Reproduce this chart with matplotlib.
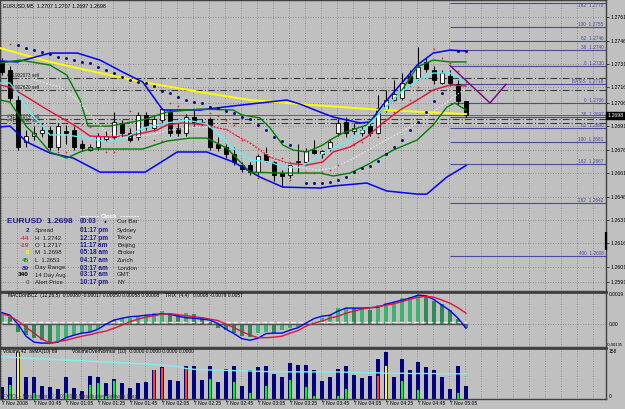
import numpy as np
import matplotlib
matplotlib.use("Agg")
import matplotlib.pyplot as plt

plt.rcParams['font.family'] = ['Liberation Sans', 'DejaVu Sans']

# ---------------- data ----------------
bars = np.arange(59)
opens = [1.2732, 1.2727, 1.2708, 1.2681, 1.2685, 1.2687, 1.2689, 1.2678, 1.2688, 1.2689,
         1.2680, 1.2676, 1.2678, 1.2683, 1.2684, 1.2693, 1.2687, 1.2684, 1.2698, 1.2690,
         1.2695, 1.2700, 1.2690, 1.2687, 1.2697, 1.2693, 1.2696, 1.2680, 1.2678, 1.2673,
         1.2666, 1.2666, 1.2662, 1.2673, 1.2668, 1.2661, 1.2660, 1.2668, 1.2668, 1.2676,
         1.2673, 1.2677, 1.2687, 1.2694, 1.2688, 1.2687, 1.2691, 1.2687, 1.2702, 1.2708,
         1.2709, 1.2723, 1.2722, 1.2732, 1.2727, 1.2719, 1.2723, 1.2718, 1.2707]
highs = [1.2735, 1.2730, 1.2711, 1.2689, 1.2691, 1.2693, 1.2691, 1.2693, 1.2692, 1.2691,
         1.2682, 1.2680, 1.2687, 1.2688, 1.2700, 1.2695, 1.2690, 1.2700, 1.2700, 1.2698,
         1.2703, 1.2702, 1.2693, 1.2699, 1.2702, 1.2696, 1.2697, 1.2684, 1.2680, 1.2678,
         1.2668, 1.2668, 1.2673, 1.2678, 1.2669, 1.2663, 1.2668, 1.2680, 1.2677, 1.2682,
         1.2676, 1.2683, 1.2696, 1.2697, 1.2693, 1.2691, 1.2693, 1.2711, 1.2714, 1.2721,
         1.2725, 1.2727, 1.2742, 1.2735, 1.2730, 1.2727, 1.2727, 1.2721, 1.2707]
lows = [1.2724, 1.2707, 1.2676, 1.2678, 1.2682, 1.2684, 1.2676, 1.2676, 1.2680, 1.2676,
        1.2675, 1.2675, 1.2676, 1.2681, 1.2682, 1.2684, 1.2681, 1.2682, 1.2689, 1.2688,
        1.2693, 1.2685, 1.2685, 1.2685, 1.2691, 1.2691, 1.2676, 1.2675, 1.2671, 1.2666,
        1.2662, 1.2660, 1.2660, 1.2668, 1.2656, 1.2653, 1.2658, 1.2661, 1.2666, 1.2673,
        1.2671, 1.2675, 1.2685, 1.2684, 1.2686, 1.2685, 1.2685, 1.2686, 1.2700, 1.2707,
        1.2708, 1.2717, 1.2721, 1.2726, 1.2718, 1.2718, 1.2717, 1.2705, 1.2697]
closes = [1.2726, 1.2709, 1.2678, 1.2685, 1.2687, 1.2689, 1.2678, 1.2691, 1.2687, 1.2678,
          1.2677, 1.2678, 1.2685, 1.2685, 1.2694, 1.2687, 1.2682, 1.2698, 1.2691, 1.2696,
          1.2702, 1.2687, 1.2687, 1.2697, 1.2694, 1.2694, 1.2678, 1.2677, 1.2673, 1.2668,
          1.2664, 1.2662, 1.2672, 1.2669, 1.2660, 1.2659, 1.2666, 1.2669, 1.2675, 1.2674,
          1.2675, 1.2681, 1.2693, 1.2687, 1.2690, 1.2689, 1.2687, 1.2703, 1.2708, 1.2712,
          1.2719, 1.2719, 1.2729, 1.2728, 1.2721, 1.2725, 1.2719, 1.2707, 1.2698]

nan = np.nan
sar_main = [nan, nan, 1.27432, 1.27412, 1.27399, 1.27387, 1.27374, 1.27355, 1.27348, 1.27335,
            1.27323, 1.27316, 1.27291, 1.27271, 1.27252, 1.27226, 1.27207, 1.27194, 1.27188, 1.27169,
            1.27137, 1.27124, 1.27098, 1.27079, 1.27066, 1.27060, 1.27034, 1.27028, 1.27008, 1.26996,
            1.26970, 1.26957, 1.26919, 1.26887, 1.26842, 1.26816, 1.26791, nan, 1.26547, 1.26547,
            1.26547, 1.26553, 1.26566, 1.26585, 1.26617, 1.26643, 1.26659, 1.26688, 1.26733, 1.26778,
            1.26823, 1.26887, 1.26938, 1.27002, 1.27073, 1.27124, nan, 1.27393, 1.27393]
sar_fast = [nan, 1.27438, nan, nan, nan, nan, nan, 1.26746, 1.26746, nan,
            1.26925, 1.26906, nan, 1.26746, 1.26746, nan, 1.27008, nan, nan, 1.26823,
            1.26816, 1.27060, 1.27041, nan, nan, nan, 1.26996, 1.26976, 1.26951, 1.26919,
            1.26823, nan, 1.26579, 1.26566, nan, 1.26707, 1.26566, nan, 1.26617, 1.26611,
            1.26617, 1.26630, 1.26662, nan, 1.26791, 1.26810, nan, 1.26842, 1.26951, 1.27002,
            nan, 1.27079, 1.27162, nan, 1.27406, 1.27348, 1.27316, 1.27265, 1.27194]

yellow_x = [-0.25, 6, 12.25, 17.6, 24.75, 31, 37.25, 47.6, 58]
yellow_p = [1.27412, 1.27323, 1.27252, 1.27194, 1.27130, 1.27079, 1.27053, 1.27015, 1.26989]
bb_up_x = [-0.25, 1.9, 6, 9.4, 12.25, 15.1, 17.6, 20.1, 24.75, 28.9, 35.6, 37.25, 39.75, 41.4,
           44.75, 46, 47.6, 49.75, 51.9, 53.9, 56, 58]
bb_up_p = [1.27329, 1.27323, 1.27380, 1.27380, 1.27335, 1.27258, 1.27194, 1.27015, 1.27015, 1.27041,
           1.27079, 1.27053, 1.27002, 1.26970, 1.26932, 1.26938, 1.27047, 1.27175, 1.27303, 1.27380,
           1.27399, 1.27393]
bb_lo_x = [-0.25, 1, 3.1, 6, 8.9, 12.25, 17.9, 21.9, 25.6, 28.9, 32.25, 35.1, 39.75, 41.4, 45.6,
           48.1, 51.9, 53.1, 55.6, 58]
bb_lo_p = [1.26906, 1.26912, 1.26810, 1.26739, 1.26707, 1.26617, 1.26617, 1.26746, 1.26746, 1.26682,
           1.26585, 1.26521, 1.26515, 1.26528, 1.26547, 1.26496, 1.26476, 1.26476, 1.26585, 1.26659]
env_up_x = [-0.25, 2.25, 6, 8.1, 9.75, 10.75, 13.5, 17.6, 20.6, 24.75, 28.9, 30, 32.25, 33.5, 35.1,
            36.4, 38.1, 40.1, 41, 42.6, 45.6, 47.6, 49.75, 51.9, 53.9, 56, 58]
env_up_p = [1.27316, 1.27335, 1.27303, 1.27239, 1.27079, 1.26912, 1.26912, 1.26951, 1.27002, 1.27021,
            1.27015, 1.26983, 1.26964, 1.26900, 1.26791, 1.26758, 1.26746, 1.26791, 1.26823, 1.26867,
            1.26919, 1.27015, 1.27124, 1.27291, 1.27335, 1.27323, 1.27323]
env_lo_x = [-0.25, 1, 1.9, 3.1, 4.4, 6, 8.1, 9.75, 11, 17.6, 20.6, 23.5, 25.6, 28.1, 31, 35.1, 39.75,
            41.4, 43.5, 45.6, 48.9, 51.9, 53.9, 55.6, 56.6, 58]
env_lo_p = [1.27079, 1.27066, 1.26996, 1.26906, 1.26842, 1.26746, 1.26707, 1.26746, 1.26765, 1.26765,
            1.26816, 1.26835, 1.26835, 1.26771, 1.26617, 1.26611, 1.26611, 1.26592, 1.26611, 1.26662,
            1.26758, 1.26823, 1.26919, 1.27034, 1.27060, 1.27015]
red_x = [-0.25, 1, 3.1, 5.1, 7.25, 9.4, 11, 13.5, 16.4, 19.4, 20.6, 22.6, 25.6, 28.1, 31, 33.5, 35.6,
         38.1, 40.1, 41.4, 43.5, 45.6, 47.6, 49.75, 51.9, 53.9, 56, 58]
red_p = [1.27175, 1.27162, 1.27098, 1.27034, 1.26970, 1.26906, 1.26848, 1.26842, 1.26855, 1.26887,
         1.26919, 1.26932, 1.26919, 1.26887, 1.26803, 1.26714, 1.26675, 1.26662, 1.26682, 1.26746,
         1.26778, 1.26842, 1.26932, 1.27015, 1.27079, 1.27143, 1.27175, 1.27169]
cyan_x = [-0.25, 1, 2.25, 3.5, 4.75, 6, 8.1, 9.75, 11.9, 13.1, 15.6, 17.6, 19.4, 20.6, 23.1, 25.6,
          26.9, 28.9, 31, 33.5, 35.1, 36.9, 38.5, 39.75, 41.4, 43.5, 45.6, 47.6, 49.75, 51.9, 53.9,
          56, 57.25, 58]
cyan_p = [1.27188, 1.27188, 1.27098, 1.26996, 1.26932, 1.26855, 1.26855, 1.26842, 1.26823, 1.26810,
          1.26842, 1.26900, 1.26919, 1.26932, 1.26951, 1.26925, 1.26867, 1.26771, 1.26694, 1.26682,
          1.26650, 1.26643, 1.26682, 1.26726, 1.26771, 1.26823, 1.26906, 1.27015, 1.27124, 1.27207,
          1.27252, 1.27252, 1.27220, 1.27188]
dot_x = [3.1, 7.25, 9.4, 11.4, 13.1, 15.4, 18.5, 21, 24.75, 26.9, 29.4, 32.25, 34.4, 36.9, 39.4,
         41.4, 43.5, 47.6, 51.9, 56, 58]
dot_p = [1.27220, 1.27162, 1.27079, 1.26964, 1.26874, 1.26835, 1.26855, 1.26887, 1.26906, 1.26906,
         1.26855, 1.26758, 1.26694, 1.26650, 1.26630, 1.26643, 1.26694, 1.26810, 1.26932, 1.27079,
         1.27156]

order_prices = [1.2722, 1.2714, 1.2696, 1.2693]
order_labels = ['#41902073 sell', '#41902620 sell', '#41902674 sell', '#41902698 sell']
bid_price = 1.2698

fib_start = 56
fib_levels = [1.2770, 1.2755, 1.2746, 1.2740, 1.2730, 1.2718, 1.2706, 1.2697, 1.2690, 1.2681,
              1.2667, 1.2642, 1.2608]
fib_names = ['162', '100', '62', '38', '0', 'BASIS', '0', '38', '62', '100', '162', '262', '400']
zig_x = [56, 61, 63]
zig_p = [1.2730, 1.2706, 1.2718]

price_ticks = [1.2761, 1.2746, 1.2731, 1.2716, 1.2706, 1.2691, 1.2676, 1.2661, 1.2646, 1.2631,
               1.2616, 1.2601, 1.2591]
axis_marker = [1.2612, 1.2623]

macd_hist = [0.00053, 0.00041, -0.00047, -0.00065, -0.00083, -0.00095, -0.00112, -0.00100, -0.00077, -0.00065,
             -0.00053, -0.00047, -0.00030, 0.00006, 0.00024, 0.00035, 0.00035, 0.00041, 0.00053, 0.00065,
             0.00077, 0.00065, 0.00053, 0.00065, 0.00059, 0.00041, 0.00012, -0.00024, -0.00035, -0.00053,
             -0.00071, -0.00077, -0.00053, -0.00047, -0.00053, -0.00035, -0.00024, -0.00018, 0.00006, 0.00012,
             0.00035, 0.00053, 0.00095, 0.00095, 0.00094, 0.00095, 0.00083, 0.00112, 0.00124, 0.00124,
             0.00154, 0.00160, 0.00171, 0.00165, 0.00136, 0.00118, 0.00083, 0.00030, -0.00024]
macd_line = [0.00068, 0.00053, 0.00000, -0.00071, -0.00106, -0.00112, -0.00112, -0.00106, -0.00080, -0.00065,
             -0.00053, -0.00047, -0.00030, 0.00000, 0.00024, 0.00035, 0.00044, 0.00047, 0.00053, 0.00056,
             0.00062, 0.00059, 0.00047, 0.00038, 0.00035, 0.00030, 0.00024, 0.00003, -0.00030, -0.00056,
             -0.00086, -0.00095, -0.00083, -0.00056, -0.00053, -0.00053, -0.00035, -0.00021, 0.00006, 0.00033,
             0.00047, 0.00053, 0.00077, 0.00095, 0.00095, 0.00095, 0.00097, 0.00100, 0.00118, 0.00130,
             0.00142, 0.00154, 0.00171, 0.00168, 0.00145, 0.00112, 0.00080, 0.00035, -0.00024]
macd_signal = [0.00062, 0.00047, 0.00018, -0.00018, -0.00053, -0.00089, -0.00112, -0.00103, -0.00095, -0.00083,
               -0.00071, -0.00062, -0.00050, -0.00041, -0.00024, -0.00006, 0.00015, 0.00030, 0.00041, 0.00050,
               0.00059, 0.00062, 0.00056, 0.00050, 0.00044, 0.00038, 0.00030, 0.00021, 0.00000, -0.00021,
               -0.00044, -0.00065, -0.00080, -0.00080, -0.00077, -0.00071, -0.00053, -0.00038, -0.00012, 0.00006,
               0.00018, 0.00035, 0.00047, 0.00065, 0.00077, 0.00089, 0.00097, 0.00103, 0.00112, 0.00121,
               0.00133, 0.00148, 0.00159, 0.00165, 0.00159, 0.00142, 0.00124, 0.00097, 0.00065]
macd_level = 0.00015

volumes = [37, 68, 146, 68, 68, 40, 37, 31, 68, 34, 25, 71, 68, 50, 62, 50, 34, 50, 53, 90,
           99, 59, 56, 105, 102, 59, 105, 53, 93, 102, 40, 90, 99, 102, 78, 68, 112, 108, 108, 90,
           56, 68, 93, 102, 74, 65, 71, 124, 149, 68, 127, 90, 115, 99, 90, 68, 31, 102, 42]
vol_avg = [133, 131, 130, 128, 127, 126, 125, 123, 122, 121, 120, 119, 117, 116, 115, 114, 112, 111, 110, 108,
           106, 104, 101, 96, 93, 92, 91, 91, 90, 89, 88, 88, 87, 86, 86, 85, 85, 85, 85, 85,
           85, 85, 85, 84, 84, 82, 82, 82, 81, 81, 81, 80, 80, 80, 80, 79, 79, 79, 79]
green_idx = [1, 4, 8, 11, 12, 13, 14, 26, 29, 31, 33, 36, 38, 39, 42, 43, 50, 52, 57]
green_val = [43, 18, 18, 43, 50, 10, 56, 62, 53, 18, 40, 59, 37, 9, 10, 31, 56, 28, 18]
red_idx = [19, 20, 23, 47]
red_val = [90, 96, 96, 71]
yel_idx = [2, 48]
yel_val = [146, 102]

time_idx = [0, 4, 8, 12, 16, 20, 24, 28, 32, 36, 40, 44, 48, 52, 56]
time_labels = ['7 Nov 2008', '7 Nov 00:45', '7 Nov 01:05', '7 Nov 01:25', '7 Nov 01:45', '7 Nov 02:05',
               '7 Nov 02:25', '7 Nov 02:45', '7 Nov 03:05', '7 Nov 03:25', '7 Nov 03:45', '7 Nov 04:05',
               '7 Nov 04:25', '7 Nov 04:45', '7 Nov 05:05']

info_vals = ['2', '-44', '-19', '0', '45', '89', '340', '0']
info_val_colors = ['#1c1c8c', '#c83c3c', '#b84848', '#ffff00', '#189018', '#2828b8', '#000000', '#6a6a6a']
info_labels = ['Spread', 'H  1.2742', 'O  1.2717', 'M  1.2698', 'L  1.2653', 'Day Range', '14 Day Avg', 'Alert Price']
clock_times = ['00:03', '01:17 pm', '12:17 pm', '11:17 am', '05:18 am', '04:17 am', '03:17 am', '03:17 am', '10:17 pm']
clock_places = ['Cur Bar', 'Sydney', 'Tokyo', 'Beijing', 'Broker', 'Zurich', 'London', 'GMT', 'NY']

# ---------------- layout ----------------
W, H = 625, 409
BG = '#c0c0c0'
GRID = '#7c7c7c'
fig = plt.figure(figsize=(W / 100, H / 100), dpi=100, facecolor=BG)


def rect(x0, y0, x1, y1):
    return [x0 / W, 1 - y1 / H, (x1 - x0) / W, (y1 - y0) / H]


ax = fig.add_axes(rect(0, 0, 606, 291))
axm = fig.add_axes(rect(0, 292, 606, 347))
axv = fig.add_axes(rect(0, 348, 606, 399))
XL = (-0.25, 75.5)
grid_x = np.arange(0, 76, 2) - 0.12

for a in (ax, axm, axv):
    a.set_facecolor(BG)
    a.set_xlim(*XL)
    for s in a.spines.values():
        s.set_color('#404040')
        s.set_linewidth(1.0)
    a.set_xticks([])
    for gx in grid_x:
        a.axvline(gx, color=GRID, linestyle=(0, (1, 2)), linewidth=0.6, zorder=0.5)
    a.yaxis.tick_right()
    a.tick_params(axis='y', labelsize=3.8, length=2, width=0.5, pad=1, colors='#000000')
axm.spines['top'].set_linewidth(2.0)
axv.spines['top'].set_linewidth(2.0)

# ---------------- main price panel ----------------
ax.set_ylim(1.25855, 1.2772)
ax.set_yticks(price_ticks)
ax.set_yticklabels([f'{p:.4f}' for p in price_ticks])
ax.grid(axis='y', color=GRID, linestyle=(0, (1, 2)), linewidth=0.6)
ax.set_axisbelow(True)

# order lines & bid line
ax.hlines(order_prices, XL[0], XL[1], colors='#3a3a3a', linestyles=(0, (6, 2, 1, 2)), linewidth=0.8, zorder=2)
for p, lab in zip(order_prices, order_labels):
    ax.text(0.6, p, lab, fontsize=3.4, color='#202020', va='bottom', ha='left', zorder=2)
ax.axhline(bid_price, color='#606060', linewidth=0.7, zorder=2)

# fib lines
ax.hlines(fib_levels, fib_start, XL[1], colors='#4a4a9a', linewidth=0.8, zorder=2)
ytr = ax.get_yaxis_transform()
for k, (p, nm) in enumerate(zip(fib_levels, fib_names)):
    ax.text(0.996, p, f'{nm}  {p:.4f}', transform=ytr, fontsize=3.4, color='#4a4a9a',
            ha='right', va='top' if k == 0 else 'bottom', zorder=3)
ax.plot(zig_x, zig_p, color='#800080', linewidth=1.0, zorder=3)

# candles
up = [c >= o for o, c in zip(opens, closes)]
ax.vlines(bars, lows, highs, color='#000000', linewidth=0.75, zorder=4)
ax.bar(bars, [abs(c - o) for o, c in zip(opens, closes)], bottom=[min(o, c) for o, c in zip(opens, closes)],
       width=0.62, color=['#ffffff' if u else '#000000' for u in up], edgecolor='#000000',
       linewidth=0.6, zorder=5)

# indicator lines
ax.plot(yellow_x, yellow_p, color='#ffff00', linewidth=1.4, zorder=6)
ax.plot(bb_up_x, bb_up_p, color='#0000ff', linewidth=1.1, zorder=6)
ax.plot(bb_lo_x, bb_lo_p, color='#0000ff', linewidth=1.1, zorder=6)
ax.plot(env_up_x, env_up_p, color='#008000', linewidth=1.0, zorder=6)
ax.plot(env_lo_x, env_lo_p, color='#008000', linewidth=1.0, zorder=6)
ax.plot(red_x, red_p, color='#e0143c', linewidth=1.0, zorder=6)
ax.plot(cyan_x, cyan_p, color='#5ff0f0', linewidth=1.0, zorder=6)
ax.plot(dot_x, dot_p, color='#e8e8e8', linewidth=0.8, linestyle=(0, (1.5, 1.5)), zorder=6)
ax.scatter(bars, sar_main, s=4.5, color='#000080', zorder=7, linewidths=0)
ax.scatter(bars, sar_fast, s=1.6, color='#c83232', zorder=7, linewidths=0)

# price box and axis marker
ax.text(1.002, bid_price, f'{bid_price:.4f}', transform=ytr, fontsize=3.8, color='white', ha='left',
        va='center', bbox=dict(boxstyle='square,pad=0.25', fc='black', ec='black'), zorder=8, clip_on=False)
ax.vlines(1.0, axis_marker[0], axis_marker[1], transform=ytr, color='black', linewidth=1.6, clip_on=False, zorder=8)

# title
fig.text(3 / W, 1 - 6 / H, 'EURUSD,M5  1.2707 1.2707 1.2697 1.2698', fontsize=3.8, color='#000000', va='center')


def ftxt(x, y, s, **kw):
    fig.text(x / W, 1 - y / H, s, va='center', **kw)


# info panel
ftxt(7, 222, 'EURUSD  1.2698', fontsize=6.0, fontweight='bold', color='#1c1c8c')
rows_y = [230, 238, 245, 253, 260, 268, 275, 283]
for yy, v, vc, lab in zip(rows_y, info_vals, info_val_colors, info_labels):
    ftxt(29, yy, v, fontsize=4.6, fontweight='bold', color=vc, ha='right')
    ftxt(35, yy, lab, fontsize=4.3, color='#202020')
clock_y = [222] + rows_y
ftxt(109, 216, 'Clock', fontsize=4.3, fontweight='bold', color='white', ha='center')
fig.lines.append(plt.Line2D([80 / W, 99 / W], [1 - 216 / H] * 2, transform=fig.transFigure,
                            color='white', linewidth=0.8, linestyle=(0, (1.5, 1))))
fig.lines.append(plt.Line2D([120 / W, 139 / W], [1 - 216 / H] * 2, transform=fig.transFigure,
                            color='white', linewidth=0.8, linestyle=(0, (1.5, 1))))
for yy, t, pl in zip(clock_y, clock_times, clock_places):
    ftxt(80, yy, t, fontsize=4.7, fontweight='bold', color='#1c1c8c')
    ftxt(117, yy, pl, fontsize=4.3, color='#202020')
ftxt(105, 222, '\u25cf', fontsize=3.5, color='#1c1c8c', ha='center')

# ---------------- MACD panel ----------------
axm.set_ylim(-0.00135, 0.0019)
axm.set_yticks([])
colors_h = ['#3cb371'] + ['#3cb371' if macd_hist[k] >= macd_hist[k - 1] else '#2e8b57'
                          for k in range(1, len(macd_hist))]
axm.axhline(0, color=GRID, linestyle=(0, (1, 2)), linewidth=0.6, zorder=1)
axm.bar(bars, macd_hist, width=0.5, color=colors_h, zorder=2)
axm.hlines(0, bars[0], bars[-1], colors='#505050', linewidth=1.0, zorder=3)
axm.hlines(macd_level, bars[0], bars[-1], colors='white', linewidth=0.8, linestyles=(0, (4, 2.5)), zorder=3)
axm.plot(bars, macd_line, color='#0000ff', linewidth=1.0, zorder=4)
axm.plot(bars, macd_signal, color='#e0143c', linewidth=1.0, zorder=4)
xtr = axm.get_yaxis_transform()
axm.text(1.004, 0.0019, '0.0019', transform=xtr, fontsize=3.5, va='top', ha='left', clip_on=False)
axm.text(1.004, 0.0, '0.00', transform=xtr, fontsize=3.5, va='center', ha='left', clip_on=False)
axm.text(1.002, -0.00135, '-0.00135', transform=xtr, fontsize=3.0, va='bottom', ha='left', clip_on=False)
fig.text(8 / W, 1 - 296 / H, 'MACDonBCZ  (12,26,5)  0.00080 -0.00017 0.00050 0.00058 0.00008',
         fontsize=3.5, color='#000000', va='center')
fig.text(165 / W, 1 - 296 / H, 'TRIX  (4,4)   0.0008 -0.0079 0.0057', fontsize=3.5, color='#000000', va='center')

# ---------------- Volume panel ----------------
axv.set_ylim(0, 160)
axv.set_yticks([])
axv.bar(bars, volumes, width=0.5, color='#000080', zorder=2)
axv.bar(green_idx, green_val, width=0.22, color='#00ff00', zorder=3)
axv.bar(red_idx, red_val, width=0.22, color='#ff4020', zorder=3)
axv.bar(yel_idx, yel_val, width=0.3, color='#ffff00', zorder=3)
axv.plot(bars, vol_avg, color='#80f0f0', linewidth=1.0, zorder=4)
vtr = axv.get_yaxis_transform()
axv.text(1.005, 158, '158', transform=vtr, fontsize=3.6, va='top', ha='left', clip_on=False)
axv.text(1.005, 0, '0', transform=vtr, fontsize=3.6, va='bottom', ha='left', clip_on=False)
fig.text(3 / W, 1 - 352 / H, 'Volume 42  avMA(10) 69', fontsize=3.5, color='#000000', va='center')
fig.text(72 / W, 1 - 352 / H, 'VolumeOverNormal  (10)  0.0000 0.0000 0.0000 0.0000', fontsize=3.5,
         color='#000000', va='center')
fig.text(3 / W, 1 - 396 / H, 'FXSOL - MetaTrader, \u00a9 2001-2008 MetaQuotes Software Corp.', fontsize=3.4,
         color='#303030', va='center', zorder=10)

# time labels
xt = axv.get_xaxis_transform()
for i, lab in zip(time_idx, time_labels):
    axv.text(i, -0.04, lab, transform=xt, fontsize=3.6, ha='left', va='top', clip_on=False)
    axv.vlines(i, -0.06, 0, transform=xt, color='#404040', linewidth=0.5, clip_on=False)

fig.savefig('out.png', dpi=100, facecolor=BG)
